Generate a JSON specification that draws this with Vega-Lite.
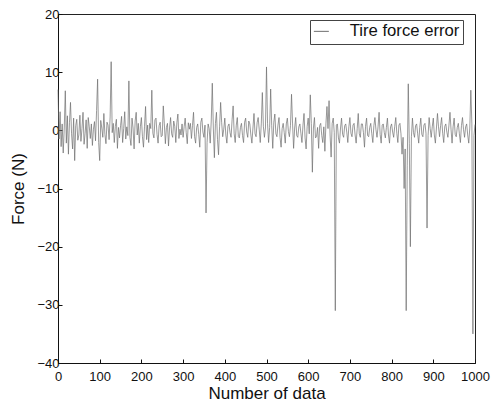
{
  "$schema": "https://vega.github.io/schema/vega-lite/v6.json",
  "width": 417,
  "height": 349,
  "autosize": {"type": "none"},
  "padding": {"left": 58, "top": 14, "right": 19, "bottom": 44},
  "background": "white",
  "config": {
    "font": "Liberation Sans",
    "view": {"stroke": "#222", "strokeWidth": 1},
    "axis": {
      "domainColor": "#111",
      "tickColor": "#111",
      "labelColor": "#111",
      "titleColor": "#111",
      "labelFont": "Liberation Sans",
      "titleFont": "Liberation Sans",
      "labelFontSize": 13,
      "titleFontSize": 17,
      "titleFontWeight": "normal",
      "grid": false
    },
    "legend": {
      "orient": "none",
      "legendX": 252,
      "legendY": 6,
      "strokeColor": "#444",
      "fillColor": "white",
      "padding": 3,
      "labelFont": "Liberation Sans",
      "labelFontSize": 16.7,
      "labelColor": "#111",
      "symbolType": "stroke",
      "symbolSize": 225,
      "symbolStrokeWidth": 1,
      "labelOffset": 20
    }
  },
  "data": {
    "values": [
      {"n":0,"f":7},{"n":2.5,"f":-1.5},{"n":5,"f":3.2},{"n":7.5,"f":-2.8},{"n":10,"f":1.1},{"n":12.5,"f":-3.9},{"n":15,"f":0.4},{"n":17.5,"f":6.8},{"n":20,"f":-2.2},{"n":22.5,"f":2.5},{"n":25,"f":-4.1},{"n":27.5,"f":1.3},{"n":30,"f":4.8},{"n":32.5,"f":-0.6},{"n":35,"f":-3.2},{"n":37.5,"f":2.1},{"n":40,"f":-5.2},{"n":42.5,"f":0.8},{"n":45,"f":1.9},{"n":47.5,"f":-1.7},
      {"n":50,"f":-0.8},{"n":52.5,"f":2.6},{"n":55,"f":-1.9},{"n":57.5,"f":0.3},{"n":60,"f":3.1},{"n":62.5,"f":-2.4},{"n":65,"f":-0.5},{"n":67.5,"f":1.8},{"n":70,"f":-3.1},{"n":72.5,"f":2.2},{"n":75,"f":0.6},{"n":77.5,"f":-1.4},{"n":80,"f":1.1},{"n":82.5,"f":-2.6},{"n":85,"f":0.2},{"n":87.5,"f":1.5},{"n":90,"f":-1.8},{"n":92.5,"f":3.4},{"n":95,"f":8.8},{"n":97.5,"f":-2.1},
      {"n":100,"f":-5.2},{"n":102.5,"f":1.7},{"n":105,"f":0.4},{"n":107.5,"f":-1.2},{"n":110,"f":2.9},{"n":112.5,"f":-0.7},{"n":115,"f":-2.3},{"n":117.5,"f":1.4},{"n":120,"f":0.9},{"n":122.5,"f":-1.6},{"n":125,"f":2.3},{"n":127.5,"f":11.8},{"n":130,"f":-0.4},{"n":132.5,"f":1.2},{"n":135,"f":-2.1},{"n":137.5,"f":0.7},{"n":140,"f":1.9},{"n":142.5,"f":-3.1},{"n":145,"f":0.5},{"n":147.5,"f":-1.3},
      {"n":150,"f":0.8},{"n":152.5,"f":2.4},{"n":155,"f":-2.1},{"n":157.5,"f":0.3},{"n":160,"f":3.2},{"n":162.5,"f":-1.5},{"n":165,"f":0.6},{"n":167.5,"f":-0.9},{"n":170,"f":8.5},{"n":172.5,"f":-1.2},{"n":175,"f":-2.6},{"n":177.5,"f":2.1},{"n":180,"f":0.4},{"n":182.5,"f":-3.2},{"n":185,"f":1.6},{"n":187.5,"f":3.1},{"n":190,"f":-0.8},{"n":192.5,"f":1.2},{"n":195,"f":-2.2},{"n":197.5,"f":0.6},
      {"n":200,"f":2.2},{"n":202.5,"f":-1.1},{"n":205,"f":-2.9},{"n":207.5,"f":0.7},{"n":210,"f":4.1},{"n":212.5,"f":-1.6},{"n":215,"f":0.9},{"n":217.5,"f":-2.1},{"n":220,"f":1.2},{"n":222.5,"f":0.3},{"n":225,"f":6.9},{"n":227.5,"f":-0.5},{"n":230,"f":-1.3},{"n":232.5,"f":1.8},{"n":235,"f":2.1},{"n":237.5,"f":-0.7},{"n":240,"f":-2.2},{"n":242.5,"f":0.8},{"n":245,"f":1.4},{"n":247.5,"f":-1.1},
      {"n":250,"f":-0.9},{"n":252.5,"f":4.2},{"n":255,"f":1.1},{"n":257.5,"f":-2.3},{"n":260,"f":0.5},{"n":262.5,"f":1.2},{"n":265,"f":-2.7},{"n":267.5,"f":0.4},{"n":270,"f":2.2},{"n":272.5,"f":-0.6},{"n":275,"f":-1.2},{"n":277.5,"f":1.6},{"n":280,"f":0.7},{"n":282.5,"f":-2.1},{"n":285,"f":1.3},{"n":287.5,"f":2.8},{"n":290,"f":-1.4},{"n":292.5,"f":0.2},{"n":295,"f":-0.8},{"n":297.5,"f":1.1},
      {"n":300,"f":-1.2},{"n":302.5,"f":0.6},{"n":305,"f":2.1},{"n":307.5,"f":-0.4},{"n":310,"f":-2.3},{"n":312.5,"f":1.3},{"n":315,"f":0.2},{"n":317.5,"f":1.2},{"n":320,"f":-1.4},{"n":322.5,"f":0.8},{"n":325,"f":3.1},{"n":327.5,"f":-1.1},{"n":330,"f":-2.2},{"n":332.5,"f":0.5},{"n":335,"f":1.1},{"n":337.5,"f":-0.7},{"n":340,"f":-2.9},{"n":342.5,"f":1.4},{"n":345,"f":2.1},{"n":347.5,"f":-0.3},
      {"n":350,"f":-1.2},{"n":352.5,"f":0.9},{"n":355,"f":-14.2},{"n":357.5,"f":-2.1},{"n":360,"f":1.1},{"n":362.5,"f":0.3},{"n":365,"f":-2.2},{"n":367.5,"f":1.6},{"n":370,"f":8.1},{"n":372.5,"f":0.4},{"n":375,"f":-4.7},{"n":377.5,"f":1.2},{"n":380,"f":3.1},{"n":382.5,"f":-1.6},{"n":385,"f":-4.2},{"n":387.5,"f":0.6},{"n":390,"f":4.8},{"n":392.5,"f":1.3},{"n":395,"f":-1.1},{"n":397.5,"f":0.2},
      {"n":400,"f":2.1},{"n":402.5,"f":-0.8},{"n":405,"f":-2.2},{"n":407.5,"f":0.7},{"n":410,"f":1.1},{"n":412.5,"f":-0.4},{"n":415,"f":-1.2},{"n":417.5,"f":1.8},{"n":420,"f":4.2},{"n":422.5,"f":-0.6},{"n":425,"f":-2.1},{"n":427.5,"f":0.9},{"n":430,"f":2.2},{"n":432.5,"f":-1.1},{"n":435,"f":-1.3},{"n":437.5,"f":0.5},{"n":440,"f":1.2},{"n":442.5,"f":-0.9},{"n":445,"f":-2.1},{"n":447.5,"f":1.4},
      {"n":450,"f":2.1},{"n":452.5,"f":-0.3},{"n":455,"f":-1.2},{"n":457.5,"f":1.6},{"n":460,"f":1.1},{"n":462.5,"f":-0.8},{"n":465,"f":-2.2},{"n":467.5,"f":0.4},{"n":470,"f":2.9},{"n":472.5,"f":-0.6},{"n":475,"f":-1.1},{"n":477.5,"f":1.3},{"n":480,"f":2.2},{"n":482.5,"f":0.2},{"n":485,"f":-2.1},{"n":487.5,"f":1.1},{"n":490,"f":6.5},{"n":492.5,"f":0.7},{"n":495,"f":-1.2},{"n":497.5,"f":0.4},
      {"n":500,"f":10.9},{"n":502.5,"f":1.2},{"n":505,"f":-2.1},{"n":507.5,"f":0.5},{"n":510,"f":7.1},{"n":512.5,"f":0.8},{"n":515,"f":-3.1},{"n":517.5,"f":1.4},{"n":520,"f":2.8},{"n":522.5,"f":-0.6},{"n":525,"f":-1.1},{"n":527.5,"f":0.9},{"n":530,"f":2.2},{"n":532.5,"f":-1.2},{"n":535,"f":-2.9},{"n":537.5,"f":0.3},{"n":540,"f":1.2},{"n":542.5,"f":-0.4},{"n":545,"f":-2.2},{"n":547.5,"f":1.1},
      {"n":550,"f":2.1},{"n":552.5,"f":-0.2},{"n":555,"f":-1.1},{"n":557.5,"f":0.8},{"n":560,"f":6.2},{"n":562.5,"f":1.1},{"n":565,"f":-3.1},{"n":567.5,"f":0.4},{"n":570,"f":2.2},{"n":572.5,"f":-0.9},{"n":575,"f":-1.2},{"n":577.5,"f":0.6},{"n":580,"f":1.1},{"n":582.5,"f":-0.5},{"n":585,"f":-2.1},{"n":587.5,"f":0.9},{"n":590,"f":2.9},{"n":592.5,"f":-1.3},{"n":595,"f":-3.2},{"n":597.5,"f":0.7},
      {"n":600,"f":2.1},{"n":602.5,"f":-0.6},{"n":605,"f":6.1},{"n":607.5,"f":1.2},{"n":610,"f":-7.2},{"n":612.5,"f":0.4},{"n":615,"f":2.2},{"n":617.5,"f":-1.3},{"n":620,"f":-1.1},{"n":622.5,"f":0.5},{"n":625,"f":-3.1},{"n":627.5,"f":0.8},{"n":630,"f":1.2},{"n":632.5,"f":-0.9},{"n":635,"f":-2.1},{"n":637.5,"f":0.6},{"n":640,"f":-3.6},{"n":642.5,"f":1.1},{"n":645,"f":4.1},{"n":647.5,"f":0.3},
      {"n":650,"f":5.1},{"n":652.5,"f":-0.8},{"n":655,"f":-4.6},{"n":657.5,"f":1.2},{"n":660,"f":2.1},{"n":662.5,"f":-0.4},{"n":665,"f":-31},{"n":667.5,"f":0.9},{"n":670,"f":1.1},{"n":672.5,"f":-1.3},{"n":675,"f":-2.2},{"n":677.5,"f":0.4},{"n":680,"f":2.1},{"n":682.5,"f":-0.7},{"n":685,"f":-1.2},{"n":687.5,"f":0.8},{"n":690,"f":1.1},{"n":692.5,"f":-0.3},{"n":695,"f":-2.1},{"n":697.5,"f":0.6},
      {"n":700,"f":2.2},{"n":702.5,"f":-0.5},{"n":705,"f":-1.1},{"n":707.5,"f":0.9},{"n":710,"f":1.2},{"n":712.5,"f":-0.8},{"n":715,"f":-2.2},{"n":717.5,"f":0.3},{"n":720,"f":2.9},{"n":722.5,"f":-0.6},{"n":725,"f":-1.2},{"n":727.5,"f":1.1},{"n":730,"f":1.1},{"n":732.5,"f":-0.4},{"n":735,"f":-2.9},{"n":737.5,"f":0.7},{"n":740,"f":2.1},{"n":742.5,"f":-0.9},{"n":745,"f":-1.1},{"n":747.5,"f":0.5},
      {"n":750,"f":1.2},{"n":752.5,"f":-0.6},{"n":755,"f":-2.1},{"n":757.5,"f":0.8},{"n":760,"f":2.2},{"n":762.5,"f":0.1},{"n":765,"f":-1.2},{"n":767.5,"f":0.6},{"n":770,"f":3.1},{"n":772.5,"f":-0.7},{"n":775,"f":-2.2},{"n":777.5,"f":0.9},{"n":780,"f":1.1},{"n":782.5,"f":-0.4},{"n":785,"f":-1.3},{"n":787.5,"f":0.5},{"n":790,"f":2.1},{"n":792.5,"f":-0.8},{"n":795,"f":-2.2},{"n":797.5,"f":0.6},
      {"n":800,"f":1.1},{"n":802.5,"f":-0.3},{"n":805,"f":-1.2},{"n":807.5,"f":0.7},{"n":810,"f":2.2},{"n":812.5,"f":-0.5},{"n":815,"f":-2.1},{"n":817.5,"f":0.9},{"n":820,"f":1.2},{"n":822.5,"f":-0.6},{"n":825,"f":-4.1},{"n":827.5,"f":-1.2},{"n":830,"f":-10},{"n":832.5,"f":-3.2},{"n":835,"f":-31},{"n":837.5,"f":-6.1},{"n":840,"f":8},{"n":842.5,"f":-2.3},{"n":845,"f":-20},{"n":847.5,"f":-1.1},
      {"n":850,"f":2.1},{"n":852.5,"f":-0.4},{"n":855,"f":-1.2},{"n":857.5,"f":0.8},{"n":860,"f":1.1},{"n":862.5,"f":-0.6},{"n":865,"f":-2.2},{"n":867.5,"f":0.5},{"n":870,"f":2.1},{"n":872.5,"f":-0.7},{"n":875,"f":-1.1},{"n":877.5,"f":0.9},{"n":880,"f":1.2},{"n":882.5,"f":-0.5},{"n":885,"f":-16.8},{"n":887.5,"f":-0.9},{"n":890,"f":2.2},{"n":892.5,"f":0.3},{"n":895,"f":-1.2},{"n":897.5,"f":0.6},
      {"n":900,"f":2.1},{"n":902.5,"f":-0.8},{"n":905,"f":-2.2},{"n":907.5,"f":0.4},{"n":910,"f":2.9},{"n":912.5,"f":0.6},{"n":915,"f":-1.1},{"n":917.5,"f":0.8},{"n":920,"f":2.2},{"n":922.5,"f":-0.5},{"n":925,"f":-2.1},{"n":927.5,"f":0.7},{"n":930,"f":1.1},{"n":932.5,"f":-0.3},{"n":935,"f":-1.2},{"n":937.5,"f":0.9},{"n":940,"f":3.1},{"n":942.5,"f":0.2},{"n":945,"f":-2.2},{"n":947.5,"f":0.6},
      {"n":950,"f":2.1},{"n":952.5,"f":-0.7},{"n":955,"f":-1.1},{"n":957.5,"f":0.5},{"n":960,"f":1.2},{"n":962.5,"f":-0.6},{"n":965,"f":-2.1},{"n":967.5,"f":0.8},{"n":970,"f":2.2},{"n":972.5,"f":0.1},{"n":975,"f":-1.2},{"n":977.5,"f":0.6},{"n":980,"f":1.1},{"n":982.5,"f":-0.8},{"n":985,"f":-2.2},{"n":987.5,"f":0.4},{"n":990,"f":6.9},{"n":992.5,"f":1.1},{"n":995,"f":-35},{"n":997.5,"f":-0.9},
      {"n":1000,"f":1}
    ]
  },
  "transform": [{"calculate": "'Tire force error'", "as": "series"}],
  "mark": {"type": "line", "strokeWidth": 0.7, "interpolate": "linear"},
  "encoding": {
    "x": {
      "field": "n",
      "type": "quantitative",
      "scale": {"domain": [0, 1000], "nice": false},
      "axis": {"title": "Number of data", "format": "d", "values": [0, 100, 200, 300, 400, 500, 600, 700, 800, 900, 1000], "tickSize": -4, "labelPadding": 11, "titlePadding": 2, "labelFlush": false}
    },
    "y": {
      "field": "f",
      "type": "quantitative",
      "scale": {"domain": [-40, 20], "nice": false, "zero": false},
      "axis": {"title": "Force (N)", "values": [-40, -30, -20, -10, 0, 10, 20], "tickSize": -4, "labelPadding": 3, "titlePadding": 9, "labelFlush": false}
    },
    "color": {
      "field": "series",
      "type": "nominal",
      "scale": {"range": ["#6e6e6e"]},
      "legend": {"title": null}
    }
  }
}
